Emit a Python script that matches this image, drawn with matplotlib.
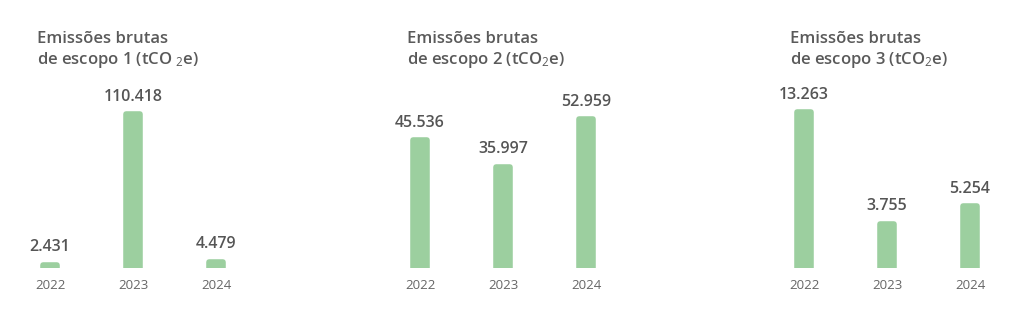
import matplotlib.pyplot as plt

plt.rcParams["font.family"] = ["Open Sans", "DejaVu Sans"]
plt.rcParams["mathtext.fontset"] = "custom"
plt.rcParams["mathtext.rm"] = "Open Sans"
plt.rcParams["mathtext.it"] = "Open Sans"

years = ["2022", "2023", "2024"]
scope1 = [2431, 110418, 4479]
scope2 = [45536, 35997, 52959]
scope3 = [13263, 3755, 5254]
labels1 = ["2.431", "110.418", "4.479"]
labels2 = ["45.536", "35.997", "52.959"]
labels3 = ["13.263", "3.755", "5.254"]
titles = [
    "Emissões brutas\nde escopo 1 (tCO $_2$e)",
    "Emissões brutas\nde escopo 2 (tCO$_2$e)",
    "Emissões brutas\nde escopo 3 (tCO$_2$e)",
]

BAR = "#9ccf9f"
TXT = "#555555"
W, H = 1024, 323

fig = plt.figure(figsize=(W / 100, H / 100), dpi=100)

# pixel layout per panel: first bar centre, max bar height, title left
panels = [
    (scope1, labels1, titles[0], 50, 154, 37),
    (scope2, labels2, titles[1], 420, 149, 407),
    (scope3, labels3, titles[2], 804, 156, 790),
]
spacing = 83
bottom_px = 268
ax_h = 200

for values, labels, title, x0, hmax, tx in panels:
    left = x0 - 0.6 * spacing
    ax = fig.add_axes([left / W, (H - bottom_px) / H, 3.2 * spacing / W, ax_h / H])
    bars = ax.bar(range(3), values, width=0.16, color=BAR, edgecolor=BAR,
                  linewidth=4, joinstyle="round")
    ax.set_xlim(-0.6, 2.6)
    ax.set_ylim(0, max(values) * ax_h / hmax)
    for b, lab in zip(bars, labels):
        ax.annotate(lab, (b.get_x() + b.get_width() / 2, b.get_height()),
                    xytext=(0, 12.5), textcoords="offset points",
                    ha="center", va="center", fontsize=11.5,
                    fontweight="semibold", color=TXT)
    ax.set_xticks(range(3))
    ax.set_xticklabels(years, fontsize=9.5, color="#666666")
    ax.tick_params(axis="x", length=0, pad=8)
    ax.set_yticks([])
    for s in ax.spines.values():
        s.set_visible(False)
    ax.patch.set_alpha(0)
    fig.text(tx / W, 1 - 31 / H, title, ha="left", va="top", fontsize=12,
             fontweight="semibold", color="#5a5a5a", linespacing=1.2)

fig.savefig("out.png", dpi=100)
